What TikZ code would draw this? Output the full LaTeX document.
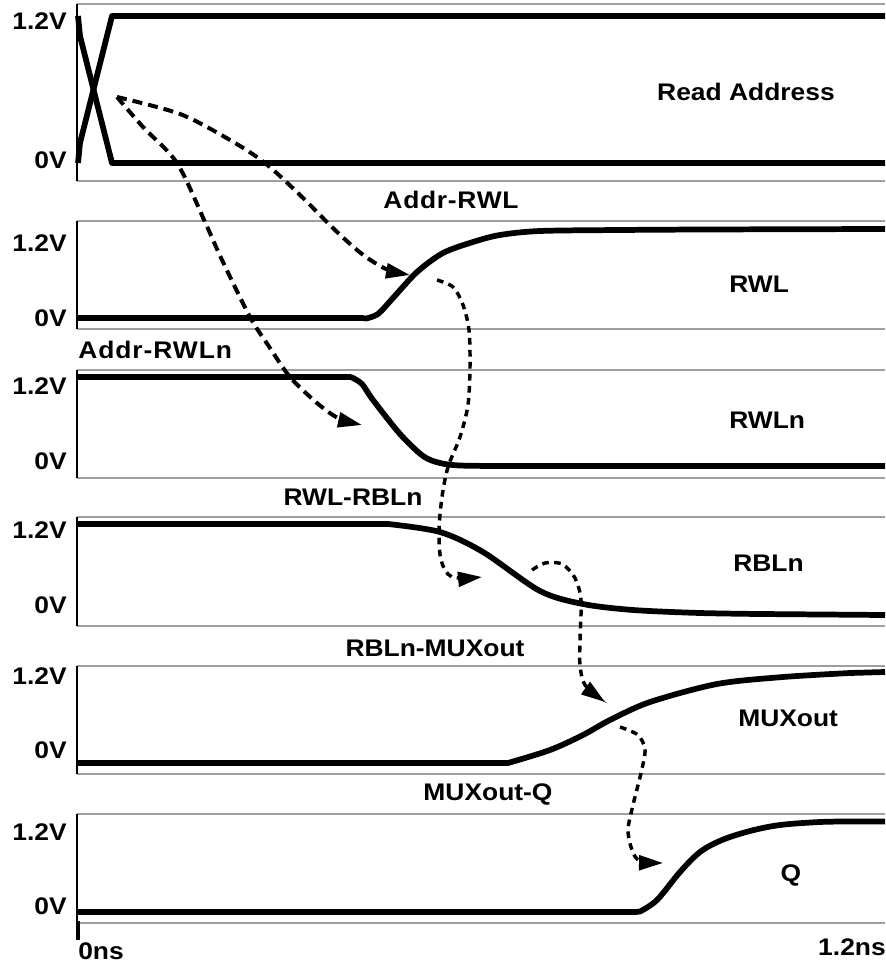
\documentclass[tikz,border=0pt]{standalone}
\usepackage{fontspec}
\setmainfont{Liberation Sans}[FakeStretch=1.1]
\usetikzlibrary{arrows.meta}
\begin{document}
\begin{tikzpicture}[x=0.75pt,y=-0.75pt,
  lbl/.style={font=\fontsize{18}{20}\selectfont\bfseries, inner sep=0pt},
  sig/.style={line width=4.3pt, line join=round, line cap=butt},
  frameline/.style={draw=gray!75, line width=1.3pt},
  axisline/.style={draw=black, line width=1pt},
  depA/.style={line width=3pt, dash pattern=on 7.5pt off 4.5pt, -{Triangle[length=18pt,width=11pt]}},
  depB/.style={line width=2.6pt, dash pattern=on 5pt off 4pt, -{Triangle[length=18pt,width=11pt]}},
]
\useasboundingbox (0,0) rectangle (885,963);
\fill[white] (0,0) rectangle (885,963);

% panel frames
\foreach \t/\b in {4/181,221/329,370/478,517/626,666/774,814/923}{
  \draw[frameline] (77,\t) -- (885,\t);
  \draw[frameline] (77,\b) -- (885,\b);
  \draw[axisline] (77,\t) -- (77,\b);
}
% time tick
\draw[line width=2.6pt] (78,921) -- (78,940);

% voltage labels
\node[lbl, anchor=east] (hi1) at (67,21) {1.2V};
\node[lbl, anchor=east] (lo1) at (67,160) {0V};
\node[lbl, anchor=east] (hi2) at (67,243) {1.2V};
\node[lbl, anchor=east] (lo2) at (67,318) {0V};
\node[lbl, anchor=east] (hi3) at (67,386) {1.2V};
\node[lbl, anchor=east] (lo3) at (67,461) {0V};
\node[lbl, anchor=east] (hi4) at (67,530) {1.2V};
\node[lbl, anchor=east] (lo4) at (67,605) {0V};
\node[lbl, anchor=east] (hi5) at (67,676) {1.2V};
\node[lbl, anchor=east] (lo5) at (67,750) {0V};
\node[lbl, anchor=east] (hi6) at (67,832) {1.2V};
\node[lbl, anchor=east] (lo6) at (67,906) {0V};

% signal names and delay labels
\node[lbl] (tRA) at (746,92) {Read Address};
\node[lbl] (tAR) at (451,200) {\addfontfeature{LetterSpace=3}Addr-RWL};
\node[lbl, anchor=west] (tRWL) at (729,284) {RWL};
\node[lbl, anchor=west] (tARn) at (78,350) {\addfontfeature{LetterSpace=4}Addr-RWLn};
\node[lbl, anchor=west] (tRWLn) at (729,420) {RWLn};
\node[lbl] (tRR) at (353,497) {RWL-RBLn};
\node[lbl, anchor=west] (tRBLn) at (733,563) {RBLn};
\node[lbl] (tRM) at (435,648) {RBLn-MUXout};
\node[lbl, anchor=west] (tMUX) at (738,718) {MUXout};
\node[lbl] (tMQ) at (488,794) {MUXout-Q};
\node[lbl] (tQ) at (791,875) {Q};
\node[lbl, anchor=west] (t0) at (78,951) {0ns};
\node[lbl, anchor=east] (t12) at (886,947) {1.2ns};

% waveforms
\draw[sig] (78,16) -- (80,36) -- (112,163) -- (885,163);
\draw[sig] (78,163) -- (80,143) -- (112,16) -- (885,16);
\draw[sig] (78,318) -- (362,318) -- plot[smooth, tension=0.5] coordinates {(366,318.5) (378,314) (393,298) (417,272) (443,253) (473,242) (500,235) (540,231) (620,230) (700,229.5)} -- (885,229);
\draw[sig] (78,377) -- (350,377) -- plot[smooth, tension=0.5] coordinates {(352,377.5) (362,384) (373,400) (400,434) (423,456) (440,463) (460,465.5) (500,466)} -- (885,466);
\draw[sig] (78,524) -- (385,524) -- plot[smooth, tension=0.5] coordinates {(388,524) (440,532) (483,552) (540,591) (583,604) (633,610) (700,613) (760,614)} -- (885,615);
\draw[sig] (78,763) -- (505,763) -- plot[smooth, tension=0.5] coordinates {(508,763) (550,750) (583,735) (610,720) (650,702) (717,684) (783,677) (850,673)} -- (885,672);
\draw[sig] (78,912) -- (636,912) -- plot[smooth, tension=0.55] coordinates {(640,911.5) (657,900) (680,872) (700,852) (722,840) (750,831) (780,825) (820,822) (850,821.5)} -- (885,821.5);

% dependency arrows
\coordinate (a1s) at (117,97);
\coordinate (a1e) at (410,275);
\coordinate (a2e) at (362,425);
\coordinate (a3s) at (437,280);
\coordinate (a3e) at (482,577);
\coordinate (a4s) at (532,570);
\coordinate (a4e) at (605,702);
\coordinate (a5s) at (620,727);
\coordinate (a5e) at (663,863);

\draw[depA] plot[smooth] coordinates {(a1s) (180,114) (230,140) (265,163) (300,195) (335,230) (362,254) (386,269) (a1e)};
\draw[depA] plot[smooth] coordinates {(a1s) (143,127) (177,163) (205,222) (222,260) (250,317) (268,345) (290,377) (317,403) (338,418) (a2e)};
\draw[depB] plot[smooth] coordinates {(a3s) (453,287) (463,305) (469,330) (470,367) (468,405) (460,437) (448,467) (442,497) (439,530) (441,560) (452,577) (a3e)};
\draw[depB] plot[smooth] coordinates {(a4s) (545,563) (562,564) (575,578) (581,600) (580,640) (580,665) (585,685) (a4e)};
\draw[depB] plot[smooth] coordinates {(a5s) (638,735) (645,750) (641,773) (633,805) (628,830) (632,850) (640,861) (a5e)};
\end{tikzpicture}
\end{document}
